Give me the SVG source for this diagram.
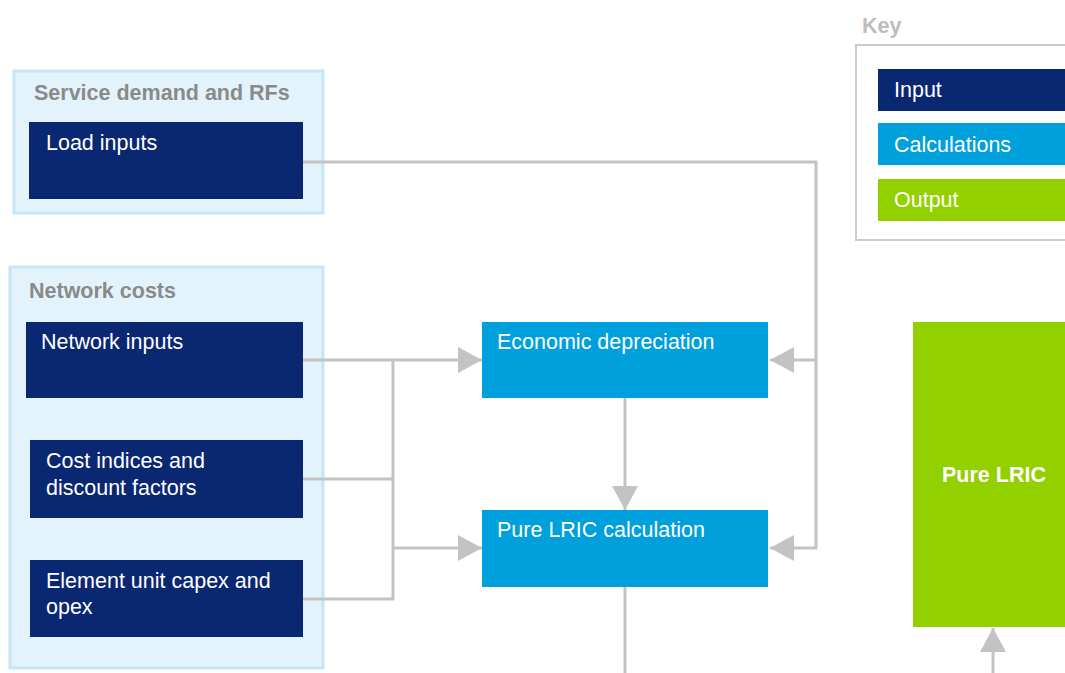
<svg xmlns="http://www.w3.org/2000/svg" width="1065" height="673" viewBox="0 0 1065 673">
<defs>
<style>
.grp{fill:#e3f3fb;stroke:#c6e6f5;stroke-width:3}
.inp{fill:#0a2771}
.calc{fill:#00a0dd}
.out{fill:#92d000}
.t{font-family:"Liberation Sans",Arial,sans-serif;font-size:21.5px;fill:#ffffff}
.tb{font-family:"Liberation Sans",Arial,sans-serif;font-size:21.5px;font-weight:bold}
.gt{fill:#8a8a8a}
.conn{fill:none;stroke:#c3c3c3;stroke-width:3}
</style>
<marker id="ah" markerUnits="userSpaceOnUse" markerWidth="24" markerHeight="26" viewBox="0 0 24 26" refX="24" refY="13" orient="auto">
<path d="M0,0 L24,13 L0,26 z" fill="#c3c3c3"/>
</marker>
</defs>
<rect width="1065" height="673" fill="#ffffff"/>

<g id="key">
<text x="862" y="33" class="tb" fill="#bdbdbd">Key</text>
<rect x="856" y="45" width="220" height="195" fill="#ffffff" stroke="#cccccc" stroke-width="2"/>
<rect x="878" y="69" width="200" height="42" class="inp"/>
<text x="894" y="97" class="t">Input</text>
<rect x="878" y="123" width="200" height="42" class="calc"/>
<text x="894" y="152" class="t">Calculations</text>
<rect x="878" y="179" width="200" height="42" class="out"/>
<text x="894" y="207" class="t">Output</text>
</g>

<g id="service-demand">
<rect x="14" y="71" width="309" height="142" class="grp"/>
<text x="34" y="100" class="tb gt">Service demand and RFs</text>
</g>
<g id="load-inputs">
<rect x="29" y="122" width="274" height="77" class="inp"/>
<text x="46" y="150" class="t">Load inputs</text>
</g>

<g id="network-costs">
<rect x="10" y="267" width="313" height="401" class="grp"/>
<text x="29" y="298" class="tb gt">Network costs</text>
</g>
<g id="network-inputs">
<rect x="26" y="322" width="277" height="76" class="inp"/>
<text x="41" y="349" class="t">Network inputs</text>
</g>
<g id="cost-indices">
<rect x="30" y="440" width="273" height="78" class="inp"/>
<text x="46" y="468" class="t">Cost indices and</text>
<text x="46" y="495" class="t">discount factors</text>
</g>
<g id="element-unit">
<rect x="30" y="560" width="273" height="77" class="inp"/>
<text x="46" y="588" class="t">Element unit capex and</text>
<text x="46" y="614" class="t">opex</text>
</g>

<g id="economic-depreciation">
<rect x="482" y="322" width="286" height="76" class="calc"/>
<text x="497" y="349" class="t">Economic depreciation</text>
</g>
<g id="pure-lric-calculation">
<rect x="482" y="510" width="286" height="77" class="calc"/>
<text x="497" y="537" class="t">Pure LRIC calculation</text>
</g>

<g id="pure-lric">
<rect x="913" y="322" width="160" height="305" class="out"/>
<text x="942" y="482" class="tb" fill="#ffffff">Pure LRIC</text>
</g>

<g id="connectors">
<path class="conn" d="M303,162 H816 V548 H770" marker-end="url(#ah)"/>
<path class="conn" d="M816,360 H770" marker-end="url(#ah)"/>
<path class="conn" d="M303,360 H482" marker-end="url(#ah)"/>
<path class="conn" d="M303,479 H393"/>
<path class="conn" d="M303,599 H393 V360"/>
<path class="conn" d="M393,548 H482" marker-end="url(#ah)"/>
<path class="conn" d="M625,398 V510" marker-end="url(#ah)"/>
<path class="conn" d="M625,587 V673"/>
<path class="conn" d="M993,673 V628" marker-end="url(#ah)"/>
</g>
</svg>
